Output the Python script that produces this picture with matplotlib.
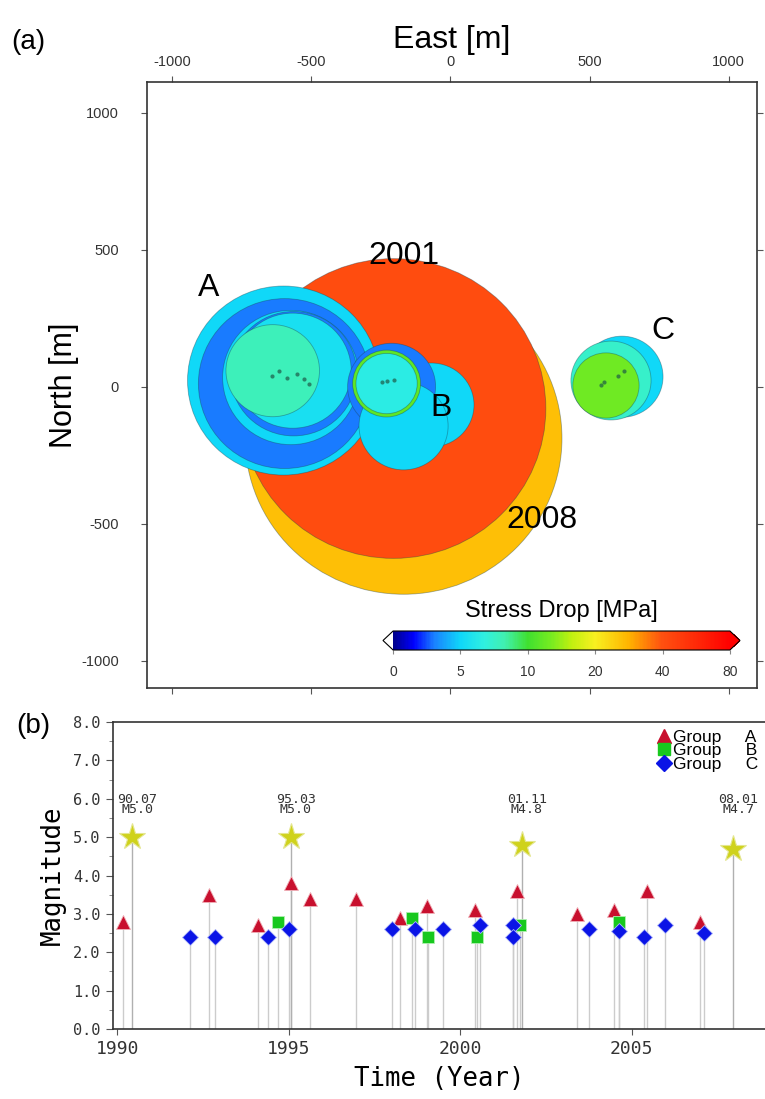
import matplotlib
matplotlib.use('Agg')
import matplotlib.pyplot as plt
import numpy as np
from matplotlib.patches import Circle
from matplotlib.colors import LinearSegmentedColormap, Normalize
from matplotlib.cm import ScalarMappable
from matplotlib.lines import Line2D

plt.rcParams['axes.unicode_minus'] = False

# ---------------- panel (a) data ----------------
# source circles (east, north, radius in m) and stress drop in MPa, in drawing order
circ_x = [-168, -204, -599, -595, -573, -563, -566, -638, -68, -211, -168, -229, -229, 616, 577, 559]
circ_y = [-189, -80, 22, 11, 33, 47, 58, 58, -67, 0, -144, 11, 11, 36, 22, 4]
circ_r = [569, 547, 345, 310, 245, 227, 210, 168, 153, 158, 160, 122, 110, 148, 144, 119]
circ_sd = [28, 42, 5, 3, 5, 3, 5.5, 8, 5, 3, 5, 12, 6.5, 5, 7.5, 13]

# hypocentres
hypo_x = [-642, -616, -588, -552, -527, -509, -247, -229, -201, 541, 552, 602, 624]
hypo_y = [40, 58, 33, 47, 29, 11, 15, 22, 25, 4, 15, 40, 58]

labels_a = ['A', '2001', 'B', 'C', '2008']
labels_a_x = [-867, -165, -32, 763, 330]
labels_a_y = [360, 477, -80, 204, -488]

cbar_ticks = [0, 5, 10, 20, 40, 80]

# ---------------- panel (b) data ----------------
grpA_t = [1990.18, 1992.69, 1994.12, 1995.06, 1995.63, 1996.97, 1998.25, 1999.03, 2000.44, 2001.65,
          2003.40, 2004.49, 2005.44, 2007.00]
grpA_m = [2.8, 3.5, 2.7, 3.8, 3.4, 3.4, 2.9, 3.2, 3.1, 3.6, 3.0, 3.1, 3.6, 2.8]

grpB_t = [1994.70, 1998.61, 1999.06, 2000.49, 2001.75, 2004.62]
grpB_m = [2.8, 2.9, 2.4, 2.4, 2.7, 2.8]

grpC_t = [1992.13, 1992.84, 1994.41, 1995.02, 1998.01, 1998.69, 1999.51, 2000.58, 2001.55, 2001.55,
          2003.77, 2004.62, 2005.37, 2005.97, 2007.11]
grpC_m = [2.4, 2.4, 2.4, 2.6, 2.6, 2.6, 2.6, 2.7, 2.7, 2.4, 2.6, 2.55, 2.4, 2.7, 2.5]

main_t = [1990.43, 1995.06, 2001.80, 2007.97]
main_m = [5.0, 5.0, 4.8, 4.7]
main_lbl = ['90.07\nM5.0', '95.03\nM5.0', '01.11\nM4.8', '08.01\nM4.7']

group_names = ['Group     A', 'Group     B', 'Group     C']

# ------------------------------------------------
sans = ['Liberation Sans', 'DejaVu Sans']
mono = ['DejaVu Sans Mono']

cmap = LinearSegmentedColormap.from_list('sd', [
    (0.00, '#00008c'), (0.06, '#0000ff'), (0.12, '#1a80ff'), (0.20, '#10d8f8'),
    (0.27, '#30f0e0'), (0.33, '#40f0b0'), (0.40, '#40e030'), (0.47, '#78ec20'),
    (0.53, '#c0f010'), (0.60, '#f8f020'), (0.70, '#ffb400'), (0.80, '#ff5010'),
    (0.90, '#ff2a08'), (1.00, '#ff0000')])
cmap.set_under('white')
cmap.set_over('#ff0000')
tick_pos = np.linspace(0, 1, len(cbar_ticks))


def sd_pos(v):
    return np.interp(v, cbar_ticks, tick_pos)


fig = plt.figure(figsize=(7.65, 10.99), dpi=100)

# ---------------- (a) ----------------
ax1 = fig.add_axes([0.192, 0.374, 0.797, 0.551])
ax1.set_xlim(-1090, 1100)
ax1.set_ylim(-1100, 1110)

for x, y, r, sd in zip(circ_x, circ_y, circ_r, circ_sd):
    c = cmap(sd_pos(sd))
    ax1.add_patch(Circle((x, y), r, facecolor=c, edgecolor=(0.1, 0.25, 0.3, 0.4), lw=0.6))
ax1.scatter(hypo_x, hypo_y, s=9, color='#1f5a48', alpha=0.7, lw=0, zorder=5)

for t, x, y in zip(labels_a, labels_a_x, labels_a_y):
    ax1.text(x, y, t, fontsize=23, family=sans, ha='center', va='center', zorder=6)

ax1.xaxis.tick_top()
ax1.xaxis.set_label_position('top')
ax1.set_xticks([-1000, -500, 0, 500, 1000])
ax1.set_yticks([-1000, -500, 0, 500, 1000])
ax1.tick_params(axis='x', top=True, bottom=True, labeltop=True, labelbottom=False,
                direction='out', length=4, pad=6, labelsize=10.5, labelcolor='#333333', color='#555555')
ax1.tick_params(axis='y', left=True, right=True, direction='out', length=4, pad=16,
                labelsize=10.5, labelcolor='#333333', color='#555555')
for lb in ax1.get_xticklabels() + ax1.get_yticklabels():
    lb.set_family(sans)
ax1.set_xlabel('East [m]', fontsize=23, family=sans, labelpad=5)
ax1.set_ylabel('North [m]', fontsize=22, family=sans, labelpad=2)
for sp in ax1.spines.values():
    sp.set_linewidth(1.2)
    sp.set_color('#333333')
fig.text(0.037, 0.962, '(a)', fontsize=20, family=sans, ha='center', va='center')

cax = fig.add_axes([383 / 765, 1 - 650 / 1099, 357 / 765, 19 / 1099])
sm = ScalarMappable(norm=Normalize(0, 1), cmap=cmap)
cb = fig.colorbar(sm, cax=cax, orientation='horizontal', extend='both', extendfrac=0.03)
cb.set_ticks(tick_pos, labels=[str(v) for v in cbar_ticks])
cb.ax.tick_params(labelsize=10, length=3, pad=8, labelcolor='#333333', color='#888888')
for lb in cb.ax.get_xticklabels():
    lb.set_family(sans)
cb.outline.set_linewidth(0.8)
cb.ax.set_title('Stress Drop [MPa]', fontsize=17, family=sans, pad=10)

# ---------------- (b) ----------------
ax2 = fig.add_axes([113 / 765, 1 - 1029 / 1099, 652 / 765, 307 / 1099])
ax2.set_xlim(1989.88, 2008.89)
ax2.set_ylim(0, 8)

stem_t = grpA_t + grpB_t + grpC_t
stem_m = grpA_m + grpB_m + grpC_m
ax2.vlines(stem_t, 0, stem_m, color='#cccccc', lw=1.0, zorder=1)
ax2.vlines(main_t, 0, main_m, color='#b0b0b0', lw=1.0, zorder=1)

ax2.plot(main_t, main_m, ls='none', marker='*', ms=20, color='#cfd21c', mec='#e4e690', mew=0.8, zorder=3)
ax2.plot(grpA_t, grpA_m, ls='none', marker='^', ms=10, color='#c8102e', mec='#f0b0b8', mew=0.6, zorder=3)
ax2.plot(grpB_t, grpB_m, ls='none', marker='s', ms=8.5, color='#18c81e', mec='#b0f0b0', mew=0.6, zorder=4)
ax2.plot(grpC_t, grpC_m, ls='none', marker='D', ms=8, color='#0a14e6', mec='#b0b8f8', mew=0.6, zorder=5)

for t, lbl in zip(main_t, main_lbl):
    ax2.text(t + 0.15, 5.55, lbl, fontsize=9.5, family=mono, ha='center', va='bottom',
             linespacing=0.75, color='#333333')

handles = [Line2D([], [], ls='none', marker='^', ms=10, color='#c8102e'),
           Line2D([], [], ls='none', marker='s', ms=8.5, color='#18c81e'),
           Line2D([], [], ls='none', marker='D', ms=8, color='#0a14e6')]
ax2.legend(handles, group_names, loc='upper right',
           bbox_to_anchor=(0.99, 0.975), frameon=False, labelspacing=-0.1, handletextpad=0.1,
           handlelength=0.9, borderpad=0, borderaxespad=0,
           prop={'family': sans, 'size': 12.5})

ax2.set_yticks(np.arange(0, 8.1, 1.0))
ax2.set_yticks(np.arange(0.5, 8, 1.0), minor=True)
ax2.set_yticklabels(['%.1f' % v for v in np.arange(0, 8.1, 1.0)])
ax2.set_xticks([1990, 1995, 2000, 2005])
ax2.tick_params(axis='y', which='major', direction='out', length=5, pad=4, labelsize=11, color='#555555')
ax2.tick_params(axis='y', which='minor', direction='out', length=3, color='#777777')
ax2.tick_params(axis='x', direction='out', length=4, pad=4, labelsize=13, color='#555555')
for lb in ax2.get_xticklabels() + ax2.get_yticklabels():
    lb.set_family(mono)
    lb.set_color('#333333')
ax2.set_xlabel('Time (Year)', fontsize=18.5, family=mono, labelpad=6)
ax2.set_ylabel('Magnitude', fontsize=18.5, family=mono, labelpad=5)
ax2.spines['right'].set_visible(False)
for s in ['top', 'left', 'bottom']:
    ax2.spines[s].set_linewidth(1.2)
    ax2.spines[s].set_color('#333333')
fig.text(0.043, 0.339, '(b)', fontsize=20, family=sans, ha='center', va='center')

fig.savefig('out.png', dpi=100)
